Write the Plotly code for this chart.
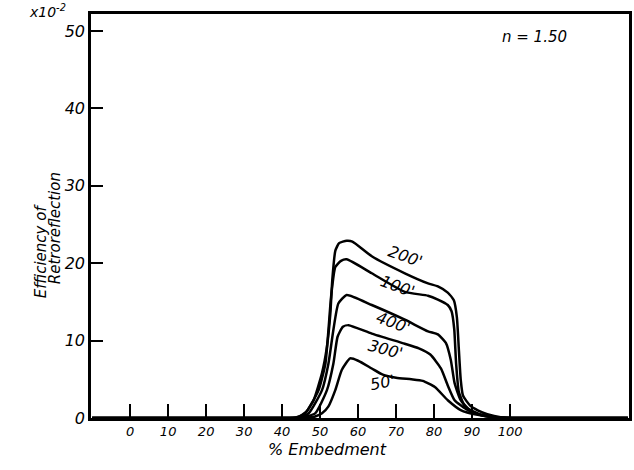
import plotly.graph_objects as go

# ---- data ----
x_tick_vals = [0, 10, 20, 30, 40, 50, 60, 70, 80, 90, 100]
y_tick_vals = [0, 10, 20, 30, 40, 50]

x_200 = [-10, 20, 38, 42, 44.4, 46.5, 48.3, 50.5, 51.8, 52.7, 53.2, 54, 55, 57, 58.5, 63.6, 72.3, 78.4, 81, 83.6, 85.2, 86.0, 86.5, 87.0, 87.6, 89.5, 91.5, 94, 97.5, 102, 115, 131]
y_200 = [0, 0, 0, 0, 0.15, 0.9, 2.3, 5.8, 9.2, 13.5, 17.8, 21.6, 22.6, 22.9, 22.8, 20.9, 18.7, 17.4, 17.0, 16.2, 15.2, 13.0, 9.0, 5.0, 2.9, 1.6, 1.0, 0.5, 0.1, 0, 0, 0]

x_100 = [-10, 20, 38, 41.5, 43.5, 46.1, 49.6, 51.4, 52.2, 52.9, 54, 55.5, 57, 63.6, 72.3, 78.4, 81, 83.6, 84.6, 85.3, 85.8, 86.5, 88, 90, 93, 97, 102, 115, 131]
y_100 = [0, 0, 0, 0, 0.05, 0.6, 3.6, 7.05, 11.4, 15.7, 19.5, 20.3, 20.5, 18.7, 16.3, 15.8, 15.3, 14.6, 13.8, 11.5, 7.0, 3.4, 1.6, 0.8, 0.3, 0.05, 0, 0, 0]

x_400 = [-10, 20, 38, 42, 44.5, 47, 50.5, 52.2, 53.5, 54.8, 57, 63.6, 72.3, 78.4, 81, 83.1, 84.4, 85.4, 87, 89, 92, 97, 102, 115, 131]
y_400 = [0, 0, 0, 0, 0.05, 0.6, 3.6, 7.05, 11.4, 14.8, 15.9, 14.6, 12.7, 11.2, 10.8, 9.7, 7.5, 4.5, 2.3, 1.2, 0.5, 0.05, 0, 0, 0]

x_300 = [-10, 20, 38, 42, 45, 48.7, 51.8, 53.5, 54.6, 56, 57.5, 63.6, 72.3, 76, 79, 81.8, 83.6, 85.4, 88.9, 92, 97, 102, 115, 131]
y_300 = [0, 0, 0, 0, 0.05, 0.6, 3.6, 7.05, 10.5, 11.8, 12.0, 10.9, 9.6, 9.0, 8.2, 6.4, 4.2, 2.3, 1.0, 0.4, 0.05, 0, 0, 0]

x_50 = [-10, 20, 40, 44, 47, 48.7, 50.5, 52.2, 54, 55.7, 57.9, 60, 63.6, 66.5, 70, 74, 77, 80.2, 83.6, 87, 91.5, 97, 102, 115, 131]
y_50 = [0, 0, 0, 0, 0.05, 0.2, 0.6, 1.5, 3.6, 6.2, 7.7, 7.4, 6.4, 5.6, 5.2, 5.0, 4.8, 4.0, 2.3, 1.03, 0.4, 0.05, 0, 0, 0]

series = [
    ("200'", x_200, y_200),
    ("100'", x_100, y_100),
    ("400'", x_400, y_400),
    ("300'", x_300, y_300),
    ("50'", x_50, y_50),
]

# curve labels: (text, x, y, angle)
curve_labels = [
    ("200'", 72.5, 20.9, 20),
    ("100'", 70.5, 17.0, 20),
    ("400'", 69.2, 12.4, 20),
    ("300'", 67.3, 8.8, 15),
    ("50'", 66.5, 4.6, -10),
]

FONT = "DejaVu Sans"
W, H = 634, 470
ML, MR, MT, MB = 91, 2, 14, 52
PW, PH = W - ML - MR, H - MT - MB


def px(xp):
    return (xp - ML) / PW


def py(yp):
    return (H - MB - yp) / PH


fig = go.Figure()
for name, xs, ys in series:
    fig.add_trace(go.Scatter(
        x=xs, y=ys, mode="lines", name=name,
        line=dict(color="black", width=2.5, shape="spline", smoothing=0.5),
        showlegend=False, hoverinfo="skip",
    ))

for text, lx, ly, ang in curve_labels:
    fig.add_annotation(x=lx, y=ly, xref="x", yref="y", text=text, showarrow=False,
                       textangle=ang, font=dict(family=FONT, size=16, color="black", style="italic"))

fig.update_layout(
    width=W, height=H,
    margin=dict(l=ML, r=MR, t=MT, b=MB),
    paper_bgcolor="white", plot_bgcolor="white",
    font=dict(family=FONT, color="black"),
)
fig.update_xaxes(
    range=[-10.3, 131.3], tickvals=x_tick_vals, ticktext=[str(v) for v in x_tick_vals],
    ticks="inside", ticklen=14, tickwidth=1.5, tickcolor="black",
    showline=True, linecolor="black", linewidth=2.5, mirror=True,
    showgrid=False, zeroline=False,
    tickfont=dict(family=FONT, size=13, color="black", style="italic"),
)
fig.update_yaxes(
    range=[0, 52.2], tickvals=y_tick_vals, ticktext=[str(v) for v in y_tick_vals],
    ticks="inside", ticklen=12, tickwidth=1.5, tickcolor="black",
    showline=True, linecolor="black", linewidth=2.5, mirror=True,
    showgrid=False, zeroline=False,
    tickfont=dict(family=FONT, size=16, color="black", style="italic"),
)

fig.add_annotation(x=px(41), y=py(251), xref="paper", yref="paper", xanchor="center", yanchor="middle",
                   text="Efficiency of", showarrow=False, textangle=-90,
                   font=dict(family=FONT, size=15, color="black", style="italic"))
fig.add_annotation(x=px(55), y=py(228), xref="paper", yref="paper", xanchor="center", yanchor="middle",
                   text="Retroreflection", showarrow=False, textangle=-90,
                   font=dict(family=FONT, size=15, color="black", style="italic"))
fig.add_annotation(x=px(329), y=py(449), xref="paper", yref="paper", xanchor="center", yanchor="middle",
                   text="% Embedment", showarrow=False,
                   font=dict(family=FONT, size=16, color="black", style="italic"))
fig.add_annotation(x=px(47), y=py(11), xref="paper", yref="paper", xanchor="center", yanchor="middle",
                   text="x10<sup>-2</sup>", showarrow=False,
                   font=dict(family=FONT, size=14, color="black", style="italic"))
fig.add_annotation(x=px(537), y=py(37), xref="paper", yref="paper", xanchor="center", yanchor="middle",
                   text="n = 1.50", showarrow=False,
                   font=dict(family=FONT, size=15, color="black", style="italic"))

fig.write_html("out.html")
